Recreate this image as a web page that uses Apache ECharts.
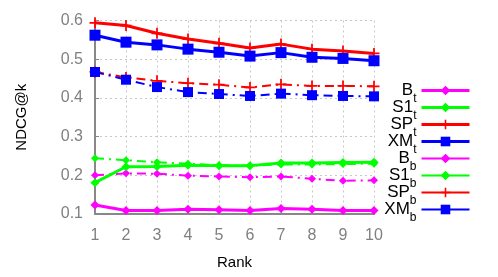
<!DOCTYPE html>
<html><head><meta charset="utf-8">
<script src="https://cdn.jsdelivr.net/npm/echarts@6/dist/echarts.min.js"></script>
<style>html,body{margin:0;padding:0;background:#fff}#c{width:498px;height:277px}</style>
</head><body><div id="c"></div>
<script>
var ranks = [1,2,3,4,5,6,7,8,9,10];
var yTicks = [0.1,0.2,0.3,0.4,0.5,0.6];
var B_t  = [0.123,0.109,0.109,0.112,0.111,0.109,0.114,0.112,0.109,0.109];
var S1_t = [0.181,0.222,0.223,0.226,0.225,0.225,0.232,0.232,0.233,0.234];
var SP_t = [0.594,0.587,0.567,0.552,0.541,0.529,0.539,0.526,0.521,0.515];
var XM_t = [0.562,0.544,0.537,0.526,0.518,0.508,0.517,0.505,0.502,0.496];
var B_b  = [0.200,0.205,0.204,0.199,0.197,0.195,0.197,0.191,0.186,0.187];
var S1_b = [0.244,0.239,0.234,0.230,0.226,0.225,0.228,0.228,0.229,0.230];
var SP_b = [0.467,0.453,0.444,0.438,0.434,0.427,0.435,0.431,0.431,0.430];
var XM_b = [0.467,0.447,0.428,0.415,0.410,0.405,0.411,0.407,0.405,0.404];

var MAG='#ff00ff', GRN='#00ff00', RED='#ff0000', BLU='#0000ff';
var PLUS='path://M4.2,0H5.8V4.2H10V5.8H5.8V10H4.2V5.8H0V4.2H4.2Z';
var DASHDOT=[9,5,2,5];

function pairs(v){return ranks.map(function(r,i){return [r,v[i]];});}
function mk(name, data, color, sym, size, dashed){
  return {
    name:name, type:'line', data:pairs(data), symbol:sym, symbolSize:size,
    itemStyle:{color:color},
    lineStyle:{color:color, width:dashed?2:3, type:dashed?DASHDOT:'solid'},
    emphasis:{disabled:true}, animation:false, z: dashed?2:3
  };
}
var series=[
  mk('B_t',B_t,MAG,'diamond',9,false),
  mk('S1_t',S1_t,GRN,'diamond',9,false),
  mk('SP_t',SP_t,RED,PLUS,11,false),
  mk('XM_t',XM_t,BLU,'rect',11,false),
  mk('B_b',B_b,MAG,'diamond',8,true),
  mk('S1_b',S1_b,GRN,'diamond',8,true),
  mk('SP_b',SP_b,RED,PLUS,11,true),
  mk('XM_b',XM_b,BLU,'rect',10,true)
];
var legendData = series.map(function(s){
  return {name:s.name, lineStyle:{type:'solid', width: s.lineStyle.width}};
});
var chart=echarts.init(document.getElementById('c'),null,{renderer:'canvas'});
chart.setOption({
  animation:false,
  grid:{left:95,right:124,top:20.5,bottom:63,containLabel:false},
  xAxis:{type:'value',min:1,max:10,interval:1,
    name:'Rank',nameLocation:'middle',nameGap:41,
    nameTextStyle:{color:'#000',fontSize:15,fontFamily:'Liberation Sans'},
    axisLine:{show:true,lineStyle:{color:'#888',width:2}},
    axisTick:{show:true,inside:true,length:4,lineStyle:{color:'#888'}},
    axisLabel:{color:'#808080',fontSize:16,fontFamily:'Liberation Sans',margin:14},
    splitLine:{show:true,lineStyle:{color:'#c8c8c8',type:[2,3],width:1}}
  },
  yAxis:{type:'value',min:0.1,max:0.6,interval:0.1,
    name:'NDCG@k',nameLocation:'middle',nameGap:66,nameRotate:90,
    nameTextStyle:{color:'#000',fontSize:15,fontFamily:'Liberation Sans'},
    axisLine:{show:true,lineStyle:{color:'#888',width:2}},
    axisTick:{show:true,inside:true,length:4,lineStyle:{color:'#888'}},
    axisLabel:{color:'#808080',fontSize:16,fontFamily:'Liberation Sans',margin:12,
      formatter:function(v){return v.toFixed(1);}},
    splitLine:{show:true,lineStyle:{color:'#c8c8c8',type:[2,3],width:1}}
  },
  legend:{orient:'vertical',right:22,top:77,align:'right',itemWidth:48,itemHeight:12,itemGap:-6,
    data:legendData, selectedMode:false,
    formatter:function(n){var p=n.split('_');return '{m|'+p[0]+'}{s|'+p[1]+'}';},
    textStyle:{color:'#000',fontFamily:'Liberation Sans',
      rich:{m:{fontSize:17,fontFamily:'Liberation Sans',color:'#000',lineHeight:17,verticalAlign:'top'},
            s:{fontSize:12,fontFamily:'Liberation Sans',color:'#000',lineHeight:12,verticalAlign:'top',padding:[11,0,0,0]}}}
  },
  series:series
});
</script></body></html>
